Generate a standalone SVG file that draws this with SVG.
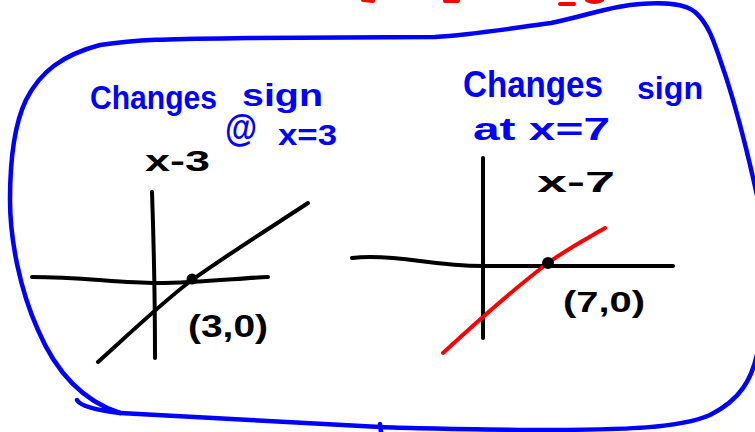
<svg xmlns="http://www.w3.org/2000/svg" width="755" height="432" viewBox="0 0 755 432">
<style>
.ink{fill:none;stroke-linecap:round;stroke-linejoin:round}
.blue{stroke:#0000ff;stroke-width:4.5}
.blk{stroke:#000;stroke-width:4}
.red{stroke:#ff0000;stroke-width:4}
.tb{font-family:"Liberation Sans",Arial,sans-serif;font-weight:bold;fill:#0000ff}
.tk{font-family:"Liberation Sans",Arial,sans-serif;font-weight:bold;fill:#000}
</style>
<rect width="755" height="432" fill="#fff"/>
<g id="top-fragments">
<path class="ink red" d="M363,0 L373,1 M445,1 L458,1 M560,4 L574,4 M587,0 Q594,4 602,0"/>
</g>
<g id="outline">
<path class="ink blue" d="M120,413 C80,400 55,370 38,330 C20,290 10,240 10,200 C10,160 14,125 26,100 C40,72 62,55 100,45 C140,39 170,39 250,38 L435,37 C470,35 500,30 551,23 C590,15 610,6 640,4 C668,2 685,4 695,12 C710,25 715,45 726,77 C735,105 745,140 758,200"/>
<path class="ink blue" d="M758,350 C752,380 740,400 710,415 C680,428 630,430 530,430 C450,429 400,428 380,427 C300,423 200,417 120,413"/>
<path class="ink blue" d="M77,400 C80,406 95,410 120,413 M380,424 L381,432"/>
</g>
<g id="left-label">
<text class="tb" x="90" y="109" font-size="34" textLength="127" lengthAdjust="spacingAndGlyphs">Changes</text>
<text class="tb" x="242" y="106" font-size="32" textLength="81" lengthAdjust="spacingAndGlyphs">sign</text>
<text class="tb" x="225" y="141" font-size="38" textLength="32" lengthAdjust="spacingAndGlyphs">@</text>
<text class="tb" x="278" y="145" font-size="30" textLength="59" lengthAdjust="spacingAndGlyphs">x=3</text>
</g>
<g id="right-label">
<text class="tb" x="463" y="97" font-size="36" textLength="140" lengthAdjust="spacingAndGlyphs">Changes</text>
<text class="tb" x="637" y="99" font-size="32" textLength="66" lengthAdjust="spacingAndGlyphs">sign</text>
<text class="tb" x="473" y="140" font-size="32" textLength="137" lengthAdjust="spacingAndGlyphs">at x=7</text>
</g>
<g id="graph-left">
<path class="ink blk" d="M152,192 C154,250 155,300 155,358 M32,277 C80,277 120,283 157,283 C200,283 240,278 268,277"/>
<path class="ink blk" d="M98,362 C130,333 165,300 192,280 C230,253 270,228 308,203"/>
<circle cx="192" cy="279" r="5.5" fill="#000"/>
<text class="tk" x="145" y="171" font-size="30" textLength="65" lengthAdjust="spacingAndGlyphs">x-3</text>
<text class="tk" x="188" y="337" font-size="32" textLength="80" lengthAdjust="spacingAndGlyphs">(3,0)</text>
</g>
<g id="graph-right">
<path class="ink blk" d="M483,158 L483,338 M352,258 C370,256 390,257 420,261 C450,265 470,266 483,266 L673,266"/>
<path class="ink red" d="M443,353 C470,328 510,292 548,263 C570,247 588,238 605,228"/>
<circle cx="548" cy="263" r="6" fill="#000"/>
<text class="tk" x="537" y="192" font-size="30" textLength="78" lengthAdjust="spacingAndGlyphs">x-7</text>
<text class="tk" x="563" y="312" font-size="30" textLength="82" lengthAdjust="spacingAndGlyphs">(7,0)</text>
</g>
</svg>
